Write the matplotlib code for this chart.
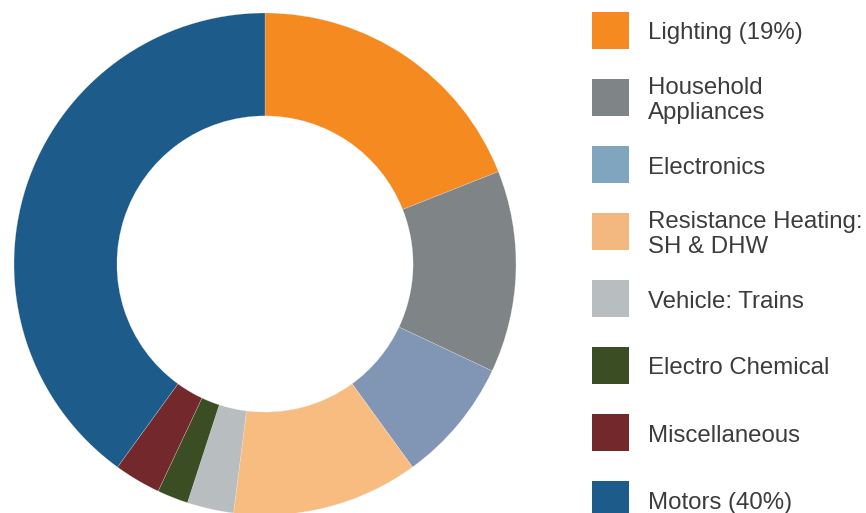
import matplotlib
matplotlib.use('Agg')
import matplotlib.pyplot as plt
from matplotlib.patches import Rectangle

categories = ['Lighting (19%)', 'Household\nAppliances', 'Electronics',
              'Resistance Heating:\nSH & DHW', 'Vehicle: Trains',
              'Electro Chemical', 'Miscellaneous', 'Motors (40%)']
shares = [19, 13, 8, 12, 3, 2, 3, 40]
wedge_colors = ['#F58A21', '#7F8487', '#8096B4', '#F9BC80',
                '#B8BDBF', '#3A4D23', '#73282B', '#1C5B8A']
legend_colors = ['#F58A21', '#7F8487', '#7FA6BE', '#F2B880',
                 '#B8BDBF', '#3A4D23', '#73282B', '#1C5B8A']

plt.rcParams['font.family'] = ['Liberation Sans', 'DejaVu Sans']

fig = plt.figure(figsize=(8.66, 5.13), dpi=100)

# donut
ax = fig.add_axes([14 / 866, -2 / 513, 502 / 866, 502 / 513])
ax.pie(shares, colors=wedge_colors, startangle=90, counterclock=False,
       radius=1.0, wedgeprops=dict(width=0.41, edgecolor='#f4f4f4', linewidth=0.15))
ax.set_xlim(-1, 1)
ax.set_ylim(-1, 1)
ax.set_aspect('equal')
ax.axis('off')

# legend drawn by hand in pixel coords
lax = fig.add_axes([0, 0, 1, 1])
lax.set_xlim(0, 866)
lax.set_ylim(513, 0)
lax.axis('off')
for i, (label, color) in enumerate(zip(categories, legend_colors)):
    top = 12 + 67 * i
    lax.add_patch(Rectangle((592, top), 37, 37, facecolor=color, edgecolor='none'))
    lax.text(648, top + 21.5, label, va='center', ha='left', fontsize=17.3,
             color='#3c3c3c', linespacing=1.18)

fig.savefig('out.png', dpi=100)
